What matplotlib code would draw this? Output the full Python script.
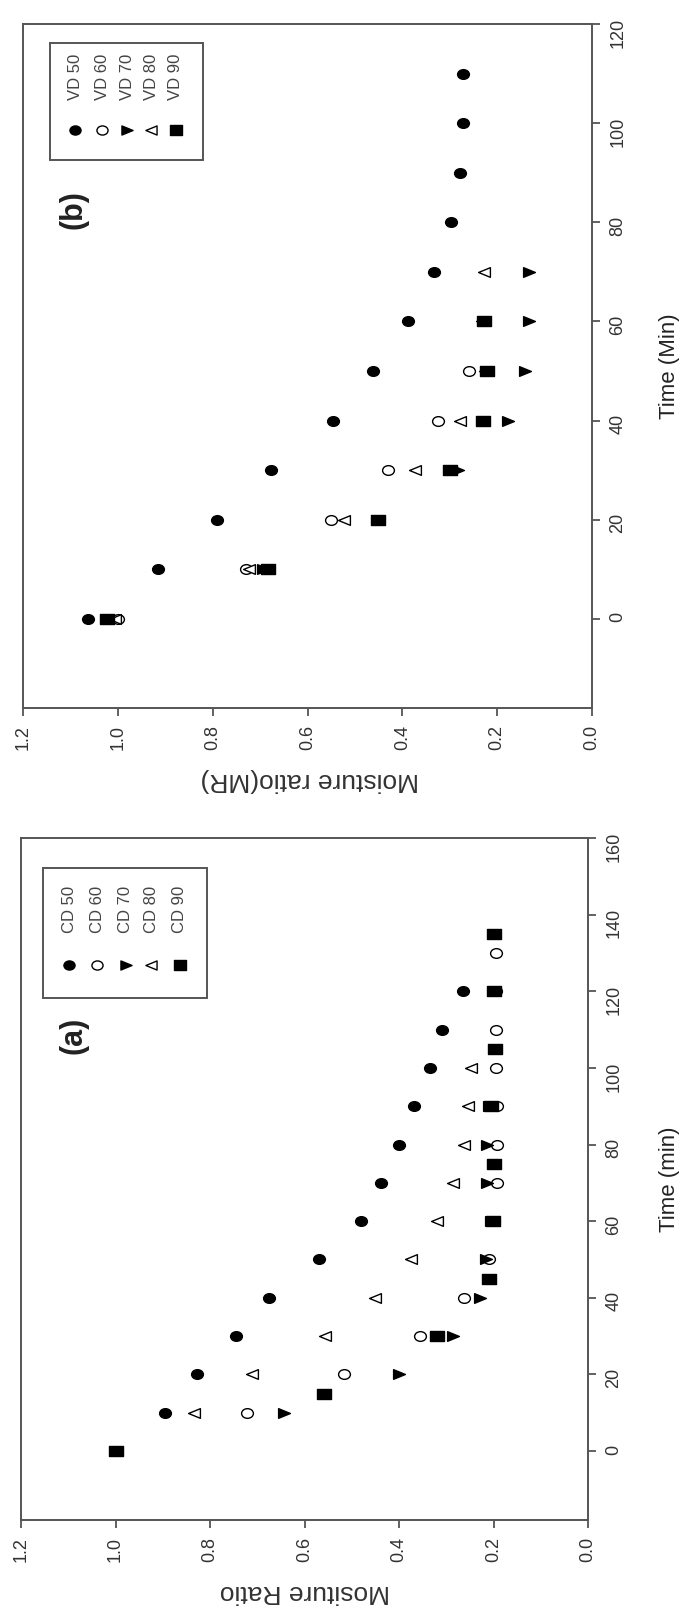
import matplotlib
matplotlib.use("Agg")
import numpy as np
import matplotlib.pyplot as plt
from matplotlib.patches import Rectangle
from matplotlib.lines import Line2D
from matplotlib.path import Path
from matplotlib.ticker import FormatStrFormatter

plt.rcParams['font.family'] = ['Liberation Sans', 'DejaVu Sans']

W, H = 687, 1612

# (a) convective drying
cd_labels = ["CD 50", "CD 60", "CD 70", "CD 80", "CD 90"]
cd50_t = [0, 10, 20, 30, 40, 50, 60, 70, 80, 90, 100, 110, 120]
cd50_mr = [1.0, 0.896, 0.827, 0.745, 0.675, 0.570, 0.480, 0.438, 0.401, 0.369, 0.334, 0.310, 0.265]
cd60_t = [0, 10, 20, 30, 40, 50, 60, 70, 80, 90, 100, 110, 120, 130]
cd60_mr = [1.0, 0.722, 0.516, 0.355, 0.262, 0.209, 0.200, 0.192, 0.192, 0.192, 0.194, 0.194, 0.195, 0.194]
cd70_t = [0, 10, 20, 30, 40, 50, 60, 70, 80, 90]
cd70_mr = [1.0, 0.643, 0.400, 0.285, 0.229, 0.215, 0.205, 0.214, 0.214, 0.210]
cd80_t = [0, 10, 20, 30, 40, 50, 60, 70, 80, 90, 100]
cd80_mr = [1.0, 0.833, 0.711, 0.557, 0.450, 0.375, 0.320, 0.285, 0.262, 0.255, 0.248]
cd90_t = [0, 15, 30, 45, 60, 75, 90, 105, 120, 135]
cd90_mr = [1.0, 0.559, 0.320, 0.209, 0.202, 0.200, 0.206, 0.197, 0.199, 0.200]

# (b) vacuum drying
vd_labels = ["VD 50", "VD 60", "VD 70", "VD 80", "VD 90"]
vd50_t = [0, 10, 20, 30, 40, 50, 60, 70, 80, 90, 100, 110]
vd50_mr = [1.063, 0.915, 0.790, 0.677, 0.547, 0.462, 0.388, 0.333, 0.298, 0.279, 0.273, 0.273]
vd60_t = [0, 10, 20, 30, 40, 50]
vd60_mr = [0.999, 0.730, 0.550, 0.430, 0.324, 0.259]
vd70_t = [0, 10, 20, 30, 40, 50, 60, 70]
vd70_mr = [1.010, 0.694, 0.450, 0.282, 0.178, 0.141, 0.132, 0.132]
vd80_t = [0, 10, 20, 30, 40, 50, 60, 70]
vd80_mr = [1.005, 0.723, 0.522, 0.374, 0.279, 0.225, 0.232, 0.227]
vd90_t = [0, 10, 20, 30, 40, 50, 60]
vd90_mr = [1.022, 0.684, 0.451, 0.300, 0.229, 0.222, 0.227]

# symbols are a little wider than tall
SX = 1.22
circle = Path(Path.unit_circle().vertices * [SX, 1.0], Path.unit_circle().codes)
square = Path([(-SX, -1), (SX, -1), (SX, 1), (-SX, 1), (-SX, -1)], closed=True)
tri_right = Path([(-SX, -1), (SX, 0), (-SX, 1), (-SX, -1)], closed=True)
tri_left = Path([(SX, -1), (-SX, 0), (SX, 1), (SX, -1)], closed=True)

# marker, face colour, size for the five temperatures
styles = [(circle, "black", 8.5), (circle, "white", 8.5), (tri_right, "black", 8.5),
          (tri_left, "white", 8.5), (square, "black", 9.5)]

AXIS_GREY = "#555555"
TEXT_GREY = "#333333"


def fig_xy(x, y):
    return x / W, 1 - y / H


def make_axes(fig, left, top, right, bottom):
    return fig.add_axes([left / W, 1 - bottom / H, (right - left) / W, (bottom - top) / H])


def style_axes(ax, tmax):
    ax.set_xlim(1.2, 0.0)
    ax.set_ylim(-18, tmax)
    ax.set_xticks([0.0, 0.2, 0.4, 0.6, 0.8, 1.0, 1.2])
    ax.set_yticks(range(0, tmax + 1, 20))
    ax.xaxis.set_major_formatter(FormatStrFormatter("%.1f"))
    ax.yaxis.tick_right()
    for s in ax.spines.values():
        s.set_color(AXIS_GREY)
        s.set_linewidth(1.4)
    ax.tick_params(axis="both", direction="out", length=5.5, width=1.3,
                   color=AXIS_GREY, labelsize=13, labelcolor=TEXT_GREY,
                   pad=7, labelrotation=90)


def draw_series(ax, series):
    for (t, mr), (m, fc, ms) in zip(series, styles):
        ax.plot(mr, t, linestyle="none", marker=m, markersize=ms,
                markerfacecolor=fc, markeredgecolor="black", markeredgewidth=1.0)


def draw_legend(fig, box, xs, marker_y, text_y, labels):
    x0, y0, x1, y1 = box
    fx0, fy1 = fig_xy(x0, y1)
    fig.add_artist(Rectangle((fx0, fy1), (x1 - x0) / W, (y1 - y0) / H,
                             transform=fig.transFigure, fill=False,
                             edgecolor=AXIS_GREY, linewidth=1.4))
    for x, lab, (m, fc, ms) in zip(xs, labels, styles):
        fx, fy = fig_xy(x, marker_y)
        fig.add_artist(Line2D([fx], [fy], transform=fig.transFigure, marker=m,
                              markersize=ms - 0.5, markerfacecolor=fc,
                              markeredgecolor="black", markeredgewidth=1.0))
        tx, ty = fig_xy(x, text_y)
        fig.text(tx, ty, lab, rotation=90, rotation_mode="anchor",
                 ha="left", va="center", fontsize=12, color="#444444")


fig = plt.figure(figsize=(W / 100, H / 100), dpi=100)

# panel (b), upper half
ax_b = make_axes(fig, 23, 24, 592, 708)
draw_series(ax_b, [(vd50_t, vd50_mr), (vd60_t, vd60_mr), (vd70_t, vd70_mr),
                   (vd80_t, vd80_mr), (vd90_t, vd90_mr)])
style_axes(ax_b, 120)
draw_legend(fig, (50, 43, 203, 160), [75, 102, 127, 151, 176], 130, 100, vd_labels)
fig.text(*fig_xy(74, 210), "(b)", rotation=90, ha="center", va="center",
         fontsize=22, fontweight="bold", color="#222222")
fig.text(*fig_xy(310, 780), "Moisture ratio(MR)", rotation=180, ha="center",
         va="center", fontsize=19, color=TEXT_GREY)
fig.text(*fig_xy(670, 366), "Time (Min)", rotation=90, ha="center",
         va="center", fontsize=16, color="#222222")

# panel (a), lower half
ax_a = make_axes(fig, 21, 838, 588, 1520)
draw_series(ax_a, [(cd50_t, cd50_mr), (cd60_t, cd60_mr), (cd70_t, cd70_mr),
                   (cd80_t, cd80_mr), (cd90_t, cd90_mr)])
style_axes(ax_a, 160)
draw_legend(fig, (43, 868, 207, 998), [69, 97, 126, 151, 180], 965, 933, cd_labels)
fig.text(*fig_xy(74, 1035), "(a)", rotation=90, ha="center", va="center",
         fontsize=22, fontweight="bold", color="#222222")
fig.text(*fig_xy(305, 1592), "Mositure Ratio", rotation=180, ha="center",
         va="center", fontsize=19, color=TEXT_GREY)
fig.text(*fig_xy(669, 1179), "Time (min)", rotation=90, ha="center",
         va="center", fontsize=16, color="#222222")

fig.savefig("out.png", dpi=100)
